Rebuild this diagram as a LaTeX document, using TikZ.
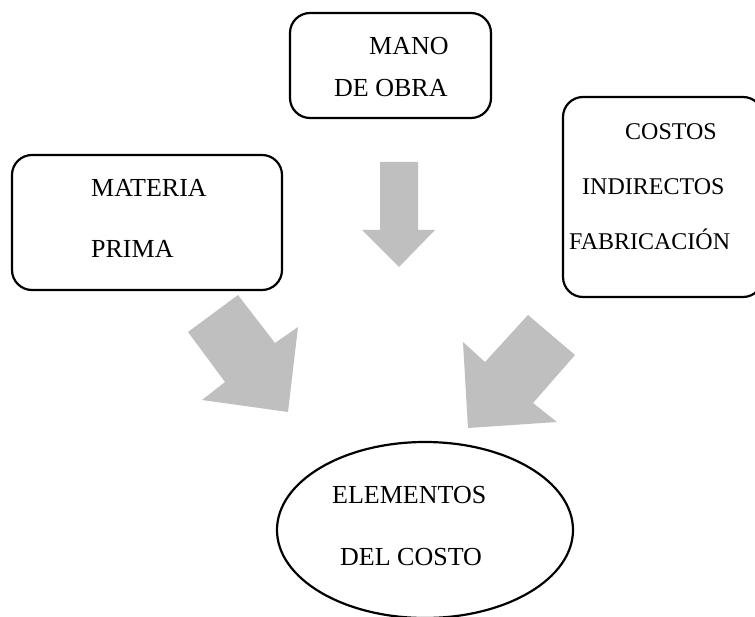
\documentclass[tikz,border=0pt]{standalone}
\usepackage{fontspec}
\setmainfont{Liberation Serif}
\usetikzlibrary{shapes.geometric}
\begin{document}
\begin{tikzpicture}[x=1pt,y=-1pt,
  box/.style={draw=black,line width=2.2pt,rounded corners=20pt,inner sep=0pt},
  oval/.style={draw=black,line width=2.2pt,ellipse,inner sep=0pt,minimum width=296pt,minimum height=176pt},
  lbl/.style={inner sep=0pt,anchor=base west,font=\fontsize{26}{30}\selectfont},
  slbl/.style={lbl,font=\fontsize{24}{28}\selectfont},
  blockarrow/.style={fill=black!25,draw=none}]
\useasboundingbox (0,0) rectangle (755,617);
% boxes
\node[box,minimum width=270pt,minimum height=135pt] (mp) at (147,222.5) {};
\node[box,minimum width=201pt,minimum height=105pt] (mo) at (390.5,65.5) {};
\node[box,minimum width=200pt,minimum height=200pt] (cif) at (663,197) {};
\node[oval] (ec) at (425,530) {};
% texts
\node[lbl] (t1) at (369,55) {MANO};
\node[lbl] (t2) at (334,97) {DE OBRA};
\node[lbl] (t3) at (91,197) {MATERIA};
\node[lbl] (t4) at (91,258) {PRIMA};
\node[slbl] (t5) at (625,140) {COSTOS};
\node[slbl] (t6) at (582,195) {INDIRECTOS};
\node[slbl] (t7) at (569,250) {FABRICACIÓN};
\node[lbl] (t8) at (332,503) {ELEMENTOS};
\node[lbl] (t9) at (340,565) {DEL COSTO};
% block arrows
\fill[blockarrow] (380,162) -- (418,162) -- (418,230) -- (435,230) -- (399,267) -- (362,230) -- (380,230) -- cycle;
\fill[blockarrow] (188,332) -- (238,295) -- (275,343) -- (298,327) -- (288,412) -- (202,400) -- (225,382) -- cycle;
\fill[blockarrow] (528,315) -- (575,355) -- (533,403) -- (557,422) -- (468,428) -- (463,342) -- (485,362) -- cycle;
\end{tikzpicture}
\end{document}
